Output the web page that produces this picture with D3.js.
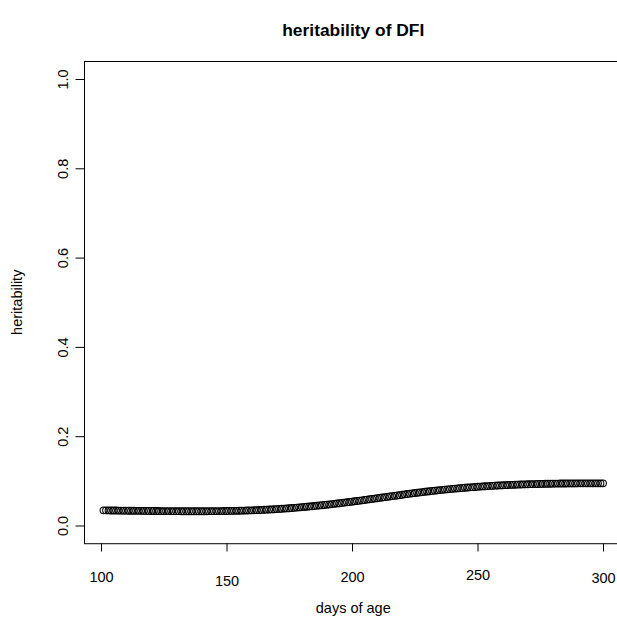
<!DOCTYPE html>
<html>
<head>
<meta charset="utf-8">
<script src="https://cdn.jsdelivr.net/npm/d3@7/dist/d3.min.js"></script>
<style>
  html, body { margin: 0; padding: 0; background: #ffffff; }
  svg { display: block; }
  text { font-family: "Liberation Sans", Arial, sans-serif; fill: #000; }
</style>
</head>
<body>
<div id="chart"></div>
<script>
// ---- data ----
const title = "heritability of DFI";
const xLabel = "days of age";
const yLabel = "heritability";
const startDay = 101;
const heritability = [
  0.0340,0.0339,0.0338,0.0337,0.0336,0.0335,0.0334,0.0333,0.0333,0.0332,
  0.0331,0.0330,0.0330,0.0329,0.0328,0.0328,0.0327,0.0326,0.0326,0.0325,
  0.0325,0.0324,0.0324,0.0323,0.0323,0.0322,0.0322,0.0322,0.0321,0.0321,
  0.0321,0.0320,0.0320,0.0320,0.0320,0.0320,0.0320,0.0320,0.0320,0.0320,
  0.0320,0.0320,0.0321,0.0321,0.0321,0.0322,0.0322,0.0323,0.0324,0.0325,
  0.0326,0.0327,0.0328,0.0329,0.0331,0.0332,0.0334,0.0336,0.0338,0.0340,
  0.0342,0.0344,0.0347,0.0349,0.0352,0.0355,0.0358,0.0361,0.0364,0.0368,
  0.0371,0.0375,0.0379,0.0383,0.0387,0.0391,0.0396,0.0400,0.0405,0.0410,
  0.0415,0.0420,0.0425,0.0431,0.0436,0.0442,0.0448,0.0454,0.0460,0.0466,
  0.0472,0.0479,0.0485,0.0492,0.0499,0.0506,0.0513,0.0520,0.0527,0.0534,
  0.0542,0.0549,0.0557,0.0564,0.0572,0.0580,0.0588,0.0596,0.0603,0.0611,
  0.0619,0.0627,0.0635,0.0642,0.0650,0.0658,0.0665,0.0673,0.0680,0.0688,
  0.0698,0.0705,0.0713,0.0720,0.0727,0.0734,0.0741,0.0748,0.0755,0.0761,
  0.0768,0.0774,0.0781,0.0787,0.0793,0.0799,0.0805,0.0810,0.0816,0.0821,
  0.0826,0.0831,0.0836,0.0841,0.0846,0.0850,0.0855,0.0859,0.0863,0.0867,
  0.0871,0.0875,0.0879,0.0882,0.0886,0.0889,0.0892,0.0895,0.0898,0.0901,
  0.0904,0.0906,0.0909,0.0911,0.0913,0.0916,0.0918,0.0920,0.0922,0.0923,
  0.0925,0.0927,0.0928,0.0930,0.0931,0.0932,0.0934,0.0935,0.0936,0.0937,
  0.0938,0.0939,0.0940,0.0940,0.0941,0.0942,0.0942,0.0943,0.0943,0.0944,
  0.0944,0.0944,0.0945,0.0945,0.0945,0.0945,0.0945,0.0945,0.0945,0.0945
];
const days = heritability.map((_, i) => startDay + i);
const xTicks = [100, 150, 200, 250, 300];
const yTicks = [0.0, 0.2, 0.4, 0.6, 0.8, 1.0];

// ---- layout ----
const W = 617, H = 619;
const xLabelCenter = [577, 581, 577, 575, 578]; // slight stagger seen in the reference
const labelFont = "14.5px";

const svg = d3.select("#chart").append("svg")
  .attr("width", W).attr("height", H);
svg.append("rect").attr("width", W).attr("height", H).attr("fill", "#fff");

const x = d3.scaleLinear().domain([100, 300]).range([101, 603]);
const y = d3.scaleLinear().domain([0, 1]).range([525.5, 79]);

const xmin = d3.min(days), xmax = d3.max(days);
const xPad = (xmax - xmin) * 0.04;
const x0 = x(xmin - xPad), x1 = x(xmax + xPad);
const y0 = y(-0.04), y1 = y(1.04);
const axY = Math.round(y0) + 0.5;

// points
svg.append("g")
  .selectAll("circle")
  .data(days.map((d, i) => [d, heritability[i]]))
  .join("circle")
  .attr("cx", d => x(d[0]))
  .attr("cy", d => y(d[1]))
  .attr("r", 3.4)
  .attr("fill", "none")
  .attr("stroke", "#000")
  .attr("stroke-width", 1.05);

// box
svg.append("rect")
  .attr("x", Math.round(x0) + 0.5).attr("y", Math.round(y1) + 0.5)
  .attr("width", x1 - x0).attr("height", y0 - y1)
  .attr("fill", "none").attr("stroke", "#000").attr("stroke-width", 1);

// x axis
const xAxis = svg.append("g")
  .attr("transform", `translate(0,${axY})`)
  .call(d3.axisBottom(x).tickValues(xTicks).tickSize(8)
        .tickFormat(d3.format("d")));
xAxis.select(".domain").remove();
xAxis.selectAll("line").attr("stroke", "#000");
xAxis.selectAll("text")
  .style("font-size", labelFont)
  .attr("y", (d, i) => xLabelCenter[i] - axY)
  .attr("dy", null)
  .attr("dominant-baseline", "central");

// y axis
const yAxis = svg.append("g")
  .attr("transform", `translate(${Math.round(x0) + 0.5},0)`)
  .call(d3.axisLeft(y).tickValues(yTicks).tickSize(9).tickPadding(0)
        .tickFormat(d3.format(".1f")));
yAxis.select(".domain").remove();
yAxis.selectAll("line").attr("stroke", "#000");
yAxis.selectAll("text")
  .style("font-size", labelFont)
  .attr("x", null).attr("dy", null)
  .attr("text-anchor", "middle")
  .attr("transform", "translate(-22,0) rotate(-90)")
  .attr("dominant-baseline", "central");

// title
svg.append("text")
  .attr("x", (x0 + x1) / 2).attr("y", 36)
  .attr("text-anchor", "middle")
  .style("font-size", "17.4px").style("font-weight", "bold")
  .text(title);

// axis titles
svg.append("text")
  .attr("x", (x0 + x1) / 2).attr("y", 613)
  .attr("text-anchor", "middle")
  .style("font-size", labelFont)
  .text(xLabel);

svg.append("text")
  .attr("transform", `translate(22,${(y0 + y1) / 2}) rotate(-90)`)
  .attr("text-anchor", "middle")
  .style("font-size", labelFont)
  .text(yLabel);
</script>
</body>
</html>
